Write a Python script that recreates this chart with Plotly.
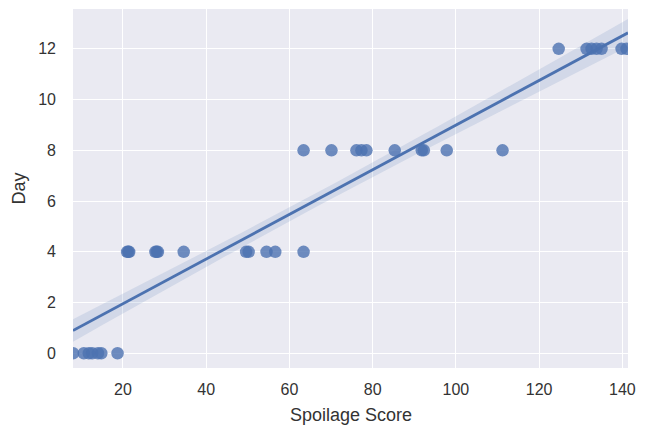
import numpy as np
import plotly.graph_objects as go

# spoilage score readings grouped by storage day
day0_scores = [8.0, 10.6, 11.8, 12.6, 14.0, 14.8, 18.7]
day4_scores = [21.0, 21.3, 21.5, 27.8, 28.1, 28.4, 34.6, 49.6, 50.2, 54.5, 56.6, 63.4]
day8_scores = [63.4, 70.1, 76.1, 77.3, 78.5, 85.3, 91.8, 92.3, 97.8, 111.2]
day12_scores = [124.7, 131.4, 132.6, 133.8, 135.0, 139.8, 141.0]

x_ticks = [20, 40, 60, 80, 100, 120, 140]
y_ticks = [0, 2, 4, 6, 8, 10, 12]

x = np.array(day0_scores + day4_scores + day8_scores + day12_scores)
y = np.array([0] * len(day0_scores) + [4] * len(day4_scores)
             + [8] * len(day8_scores) + [12] * len(day12_scores), dtype=float)

xlim = [8.0, 141.35]
ylim = [-0.58, 13.57]

# least squares fit + confidence band, like seaborn regplot
slope, intercept = np.polyfit(x, y, 1)
grid = np.linspace(xlim[0], xlim[1], 100)
fit = intercept + slope * grid
n = len(x)
resid = y - (intercept + slope * x)
s = np.sqrt(np.sum(resid ** 2) / (n - 2))
sxx = np.sum((x - x.mean()) ** 2)
half = 1.3 * s * np.sqrt(1 / n + (grid - x.mean()) ** 2 / sxx)

blue = '#4C72B0'

fig = go.Figure()
fig.add_trace(go.Scatter(
    x=np.concatenate([grid, grid[::-1]]),
    y=np.concatenate([fit + half, (fit - half)[::-1]]),
    fill='toself', fillcolor='rgba(76,114,176,0.15)',
    line=dict(width=0), mode='lines', hoverinfo='skip'))
fig.add_trace(go.Scatter(
    x=x, y=y, mode='markers',
    marker=dict(color=blue, size=12.5, opacity=0.8, line=dict(width=0))))
fig.add_trace(go.Scatter(
    x=grid, y=fit, mode='lines', line=dict(color=blue, width=2.8)))

# the page body adds an 8px offset, so margins are shifted to compensate
font = dict(family='Liberation Sans, Arial, sans-serif', size=16, color='#333333')
fig.update_layout(
    width=650, height=432,
    showlegend=False,
    paper_bgcolor='white',
    plot_bgcolor='#EAEAF2',
    margin=dict(l=65, r=30, t=1, b=72),
    font=font,
    xaxis=dict(range=xlim, tickvals=x_ticks, showgrid=True, gridcolor='white',
               gridwidth=1.3, zeroline=False, showline=False,
               ticklabelstandoff=10, automargin=False),
    yaxis=dict(range=ylim, tickvals=y_ticks, showgrid=True, gridcolor='white',
               gridwidth=1.3, zeroline=False, showline=False,
               ticklabelstandoff=16, automargin=False),
    annotations=[
        dict(text='Spoilage Score', xref='paper', yref='paper', x=0.5, y=0,
             yshift=-47, xanchor='center', yanchor='middle', showarrow=False,
             font=dict(size=18)),
        dict(text='Day', xref='paper', yref='paper', x=0, y=0.5, xshift=-55,
             xanchor='center', yanchor='middle', textangle=-90, showarrow=False,
             font=dict(size=18)),
    ],
)

fig.write_html("out.html")
